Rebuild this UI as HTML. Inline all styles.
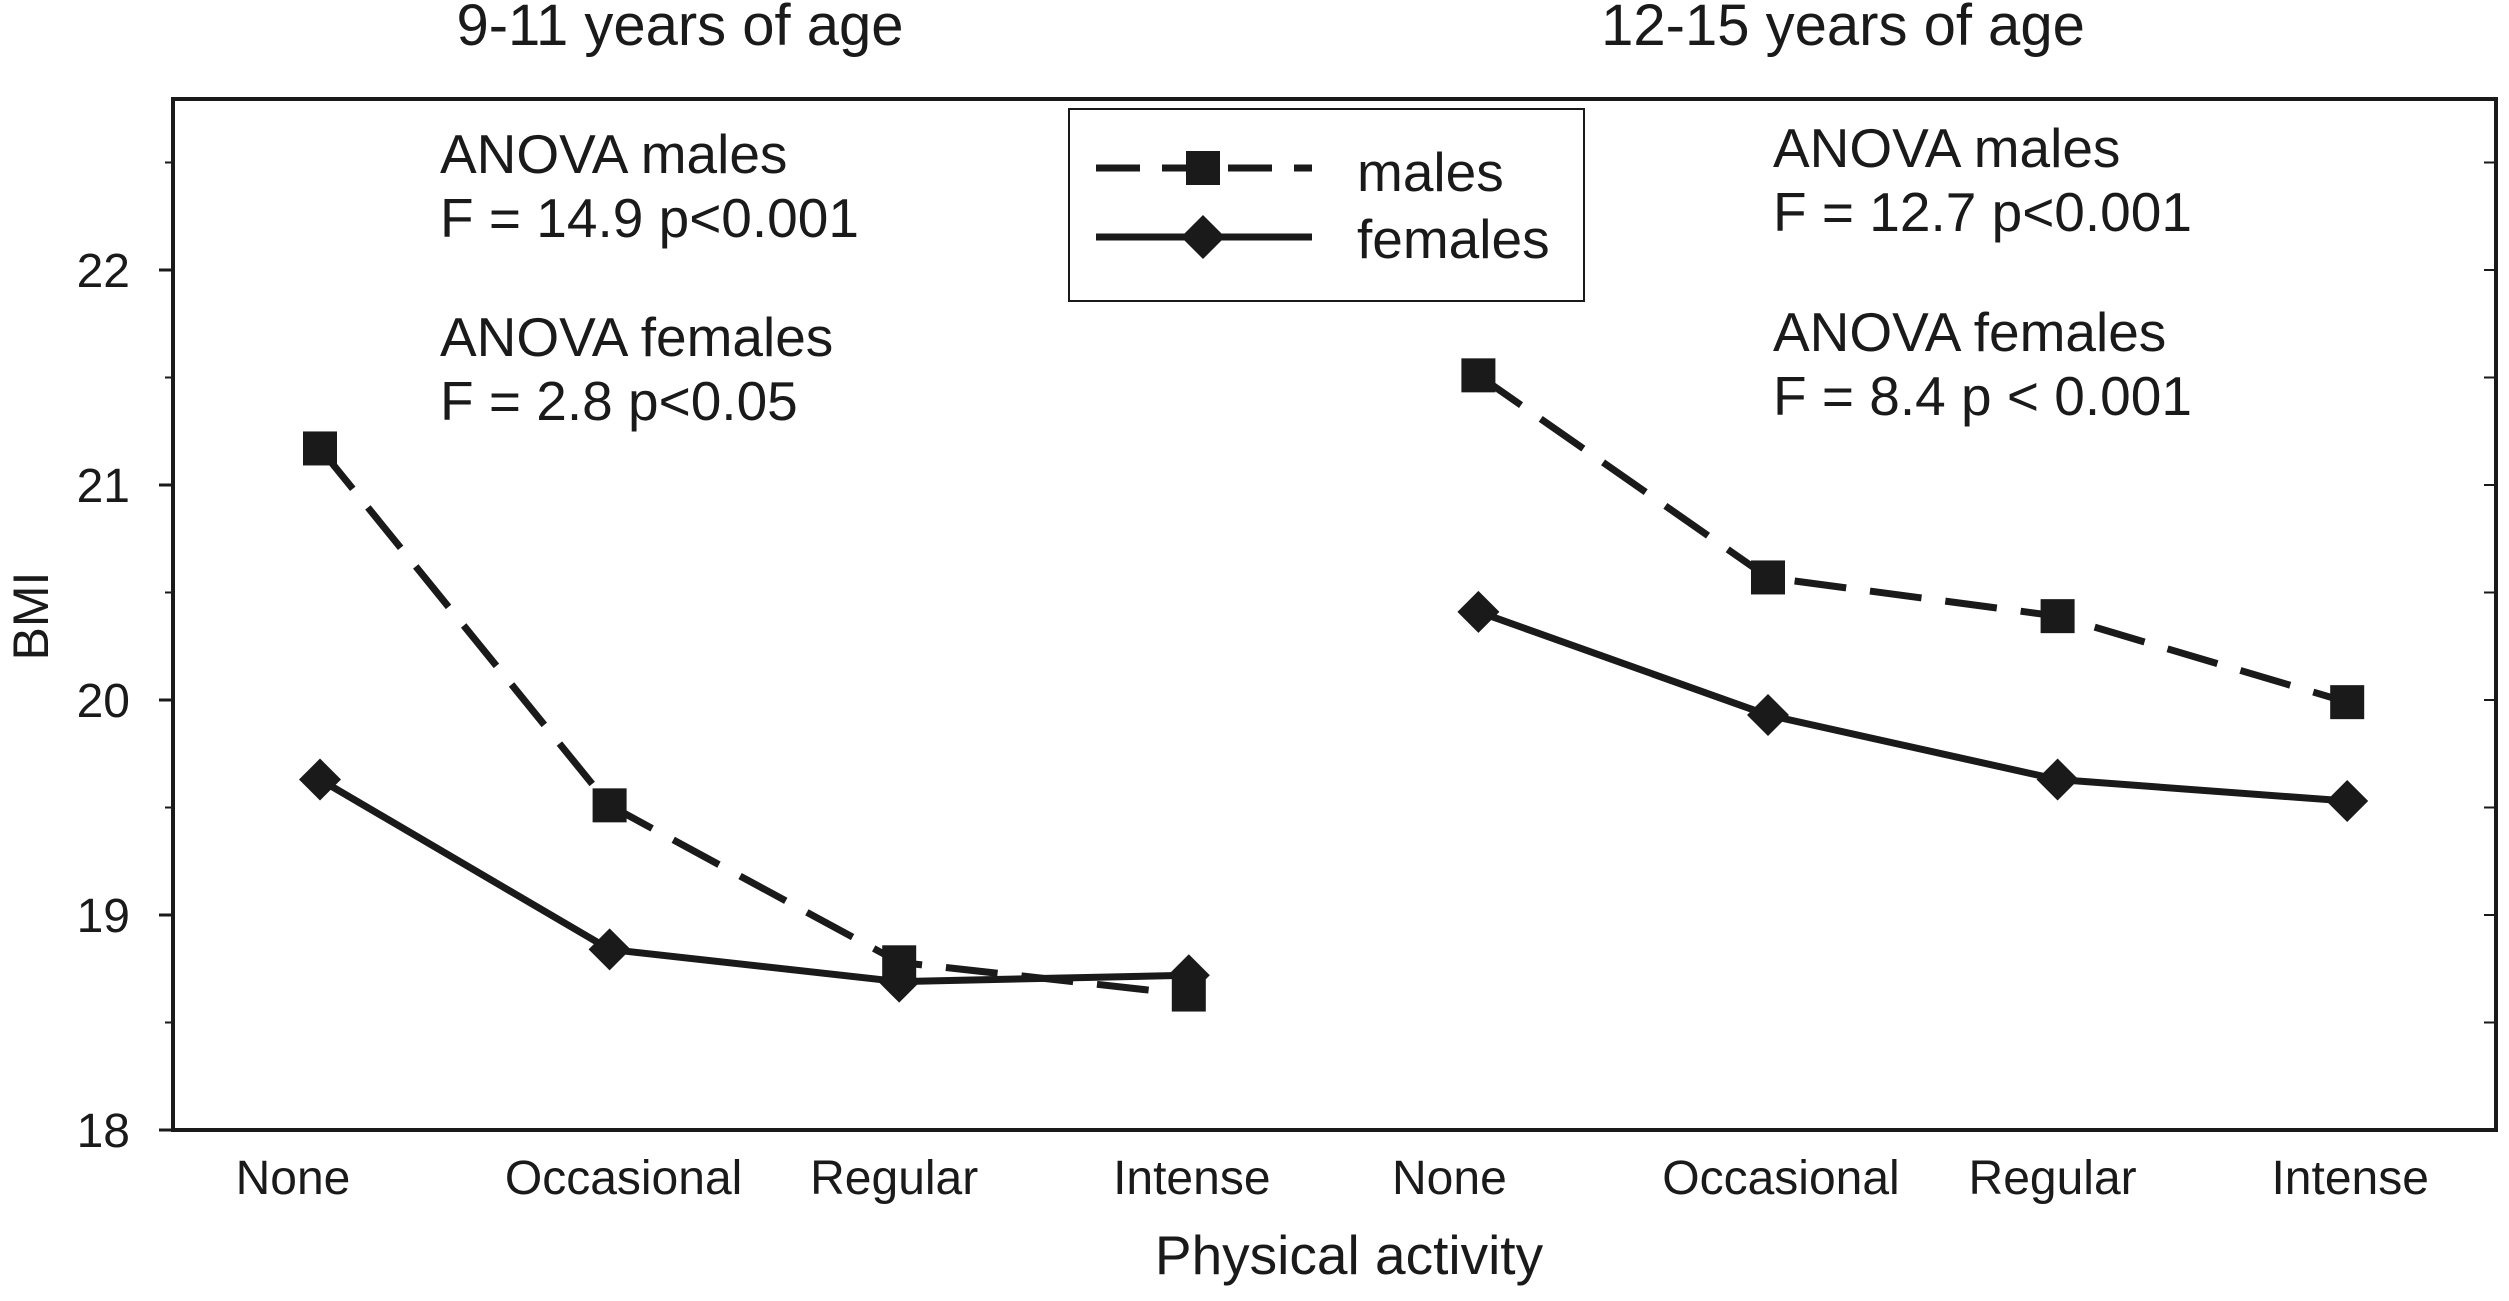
<!DOCTYPE html>
<html><head><meta charset="utf-8"><style>
html,body{margin:0;padding:0;background:#fff;}
svg{display:block;font-family:"Liberation Sans",Arial,sans-serif;}
</style></head><body>
<svg id="chart" width="2509" height="1301" viewBox="0 0 2509 1301">
<rect x="0" y="0" width="2509" height="1301" fill="#fff"/>
<g id="axes"></g>
<g id="series"></g>
<text x="680" y="45" font-size="58" text-anchor="middle" fill="#1a1a1a">9-11 years of age</text>
<text x="1843" y="45" font-size="58" text-anchor="middle" fill="#1a1a1a">12-15 years of age</text>
<g font-size="55" fill="#1a1a1a">
<text x="440" y="173">ANOVA males</text>
<text x="440" y="237">F = 14.9 p&lt;0.001</text>
<text x="440" y="356">ANOVA females</text>
<text x="440" y="420">F = 2.8 p&lt;0.05</text>
<text x="1773" y="167">ANOVA males</text>
<text x="1773" y="231">F = 12.7 p&lt;0.001</text>
<text x="1773" y="351">ANOVA females</text>
<text x="1773" y="415">F = 8.4 p &lt; 0.001</text>
</g>
<g>
<rect x="1069" y="109" width="515" height="192" fill="#fff" stroke="#1a1a1a" stroke-width="2"/>
<line x1="1096" y1="168" x2="1312" y2="168" stroke="#1a1a1a" stroke-width="7" stroke-dasharray="44,22"/>
<rect x="1186" y="151" width="34" height="34" fill="#1a1a1a"/>
<line x1="1096" y1="237" x2="1312" y2="237" stroke="#1a1a1a" stroke-width="7"/>
<polygon points="1203,215 1225,237 1203,259 1181,237" fill="#1a1a1a"/>
<text x="1357" y="191" font-size="55" fill="#1a1a1a">males</text>
<text x="1357" y="258" font-size="55" fill="#1a1a1a">females</text>
</g>
<text x="1349" y="1274" font-size="55" text-anchor="middle" fill="#1a1a1a">Physical activity</text>
<text transform="translate(48,616) rotate(-90)" font-size="50" text-anchor="middle" fill="#1a1a1a">BMI</text>
</svg>
<script>
const categories = ["None","Occasional","Regular","Intense","None","Occasional","Regular","Intense"];
const malesLeft = [21.17, 19.51, 18.78, 18.63];
const femalesLeft = [19.63, 18.84, 18.69, 18.72];
const malesRight = [21.51, 20.57, 20.39, 19.99];
const femalesRight = [20.41, 19.93, 19.63, 19.53];
const yTicks = [18, 19, 20, 21, 22];

const NS = "http://www.w3.org/2000/svg";
const L = 173, R = 2496, T = 99, B = 1130;
const yMin = 18, yMax = 22;
const labelShift = [-27, 14, -5, 3, -29, 13, -5, 3];
function yS(v){ return B - (v - yMin) * (B - 270) / (yMax - yMin); }
function xS(i){ return 320 + 289.6 * i; }
function mk(tag, attrs, parent){ const e = document.createElementNS(NS, tag); for (const k in attrs) e.setAttribute(k, attrs[k]); parent.appendChild(e); return e; }

const axes = document.getElementById('axes');
const frame = mk('rect', {x:L, y:T, width:R-L, height:B-T, fill:'none', stroke:'#1a1a1a', 'stroke-width':4}, axes);


yTicks.forEach(v => {
  const y = yS(v);
  const t = mk('line', {x1:L-14, y1:y, x2:L, y2:y, stroke:'#1a1a1a', 'stroke-width':3}, axes);
  
  
  const lb = mk('text', {x:130, y:y+17, 'font-size':48, 'text-anchor':'end', fill:'#1a1a1a'}, axes);
  lb.textContent = v;
  
  
});
for (let v = yMin + 0.5; v < yMax + 0.6; v += 0.5) {
  const y = yS(v);
  if (y <= T) continue;
  const m = mk('line', {x1:L-8, y1:y, x2:L, y2:y, stroke:'#1a1a1a', 'stroke-width':2}, axes);
  
  
  const r = mk('line', {x1:R-12, y1:y, x2:R, y2:y, stroke:'#1a1a1a', 'stroke-width':2}, axes);
  
  
}
categories.forEach((c, i) => {
  const lb = mk('text', {x:xS(i) + labelShift[i], y:1194, 'font-size':48, 'text-anchor':'middle', fill:'#1a1a1a'}, axes);
  lb.textContent = c;
  
  
});

const sg = document.getElementById('series');
function drawSeries(vals, offset, dashed, name){
  const pts = vals.map((v, i) => xS(i + offset) + ',' + yS(v)).join(' ');
  const pl = mk('polyline', {points:pts, fill:'none', stroke:'#1a1a1a', 'stroke-width':7, 'stroke-linejoin':'round'}, sg);
  if (dashed) pl.setAttribute('stroke-dasharray', '52,24');
  
  
  vals.forEach((v, i) => {
    const x = xS(i + offset), y = yS(v);
    let m;
    if (dashed) m = mk('rect', {x:x-17, y:y-17, width:34, height:34, fill:'#1a1a1a'}, sg);
    else m = mk('polygon', {points:`${x},${y-21} ${x+21},${y} ${x},${y+21} ${x-21},${y}`, fill:'#1a1a1a'}, sg);
    
    
  });
}
drawSeries(malesLeft, 0, true, 'males-9-11');
drawSeries(femalesLeft, 0, false, 'females-9-11');
drawSeries(malesRight, 4, true, 'males-12-15');
drawSeries(femalesRight, 4, false, 'females-12-15');
</script>
</body></html>
